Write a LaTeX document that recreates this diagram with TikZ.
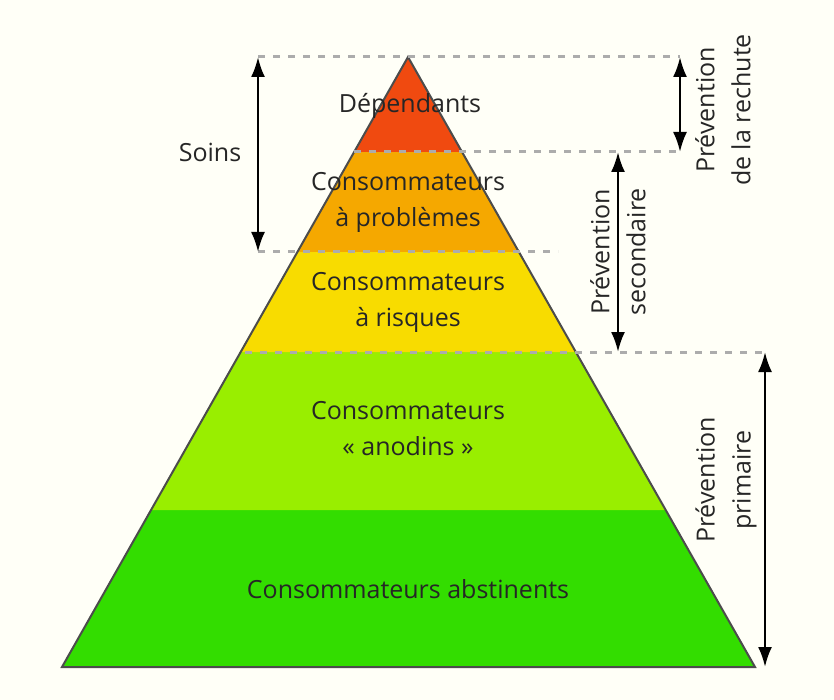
\documentclass[tikz,border=0pt]{standalone}
\usepackage{fontspec}
\setmainfont{Open Sans}
\usetikzlibrary{arrows.meta}
\definecolor{cA}{HTML}{F04A10}
\definecolor{cB}{HTML}{F5A800}
\definecolor{cC}{HTML}{F8DC00}
\definecolor{cD}{HTML}{99EE00}
\definecolor{cE}{HTML}{33DD00}
\begin{document}
\begin{tikzpicture}[x=1pt,y=-1pt,
  lbl/.style={font=\fontsize{25}{36}\selectfont, align=center, text=black!85, inner sep=0pt},
  dashln/.style={gray!65, line width=3pt, dash pattern=on 7pt off 8pt},
  arr/.style={{Latex[length=20pt,width=14pt]}-{Latex[length=20pt,width=14pt]}, line width=2.5pt}]
\useasboundingbox[fill=white!97!yellow] (0,0) rectangle (834,700);
\fill[cE] (62,667) -- (151,510) -- (665,510) -- (755,667) -- cycle;
\fill[cD] (151,510) -- (240,352) -- (576,352) -- (665,510) -- cycle;
\fill[cC] (240,352) -- (297,252) -- (519,252) -- (576,352) -- cycle;
\fill[cB] (297,252) -- (354,152) -- (462,152) -- (519,252) -- cycle;
\fill[cA] (354,152) -- (408,57) -- (462,152) -- cycle;
\draw[black!70, line width=2pt] (62,667) -- (408,57) -- (755,667) -- cycle;
\coordinate (t0) at (258,57); \coordinate (t1) at (680,57);
\coordinate (r0) at (680,152); \coordinate (s0) at (618,152);
\coordinate (s1) at (618,352); \coordinate (p0) at (765,352);
\coordinate (p1) at (765,667); \coordinate (b0) at (258,252);
\draw[dashln] (t0) -- (t1);
\draw[dashln] (354,152) -- (r0);
\draw[dashln] (b0) -- (558,252);
\draw[dashln] (245,352) -- (p0);
\draw[arr] (t0) -- (b0);
\draw[arr] (t1) -- (r0);
\draw[arr] (s0) -- (s1);
\draw[arr] (p0) -- (p1);
\node[lbl] (n1) at (410,106) {Dépendants};
\node[lbl] (n2) at (408,202) {Consommateurs\\à problèmes};
\node[lbl] (n3) at (408,302) {Consommateurs\\à risques};
\node[lbl] (n4) at (408,429) {Consommateurs\\« anodins »};
\node[lbl] (n5) at (408,589) {Consommateurs abstinents};
\node[lbl] (soins) at (210,152) {Soins};
\node[lbl, rotate=90] (rech) at (723,110) {Prévention\\de la rechute};
\node[lbl, rotate=90] (sec) at (618,252) {Prévention\\secondaire};
\node[lbl, rotate=90] (prim) at (726,480) {Prévention\\primaire};
\end{tikzpicture}
\end{document}
